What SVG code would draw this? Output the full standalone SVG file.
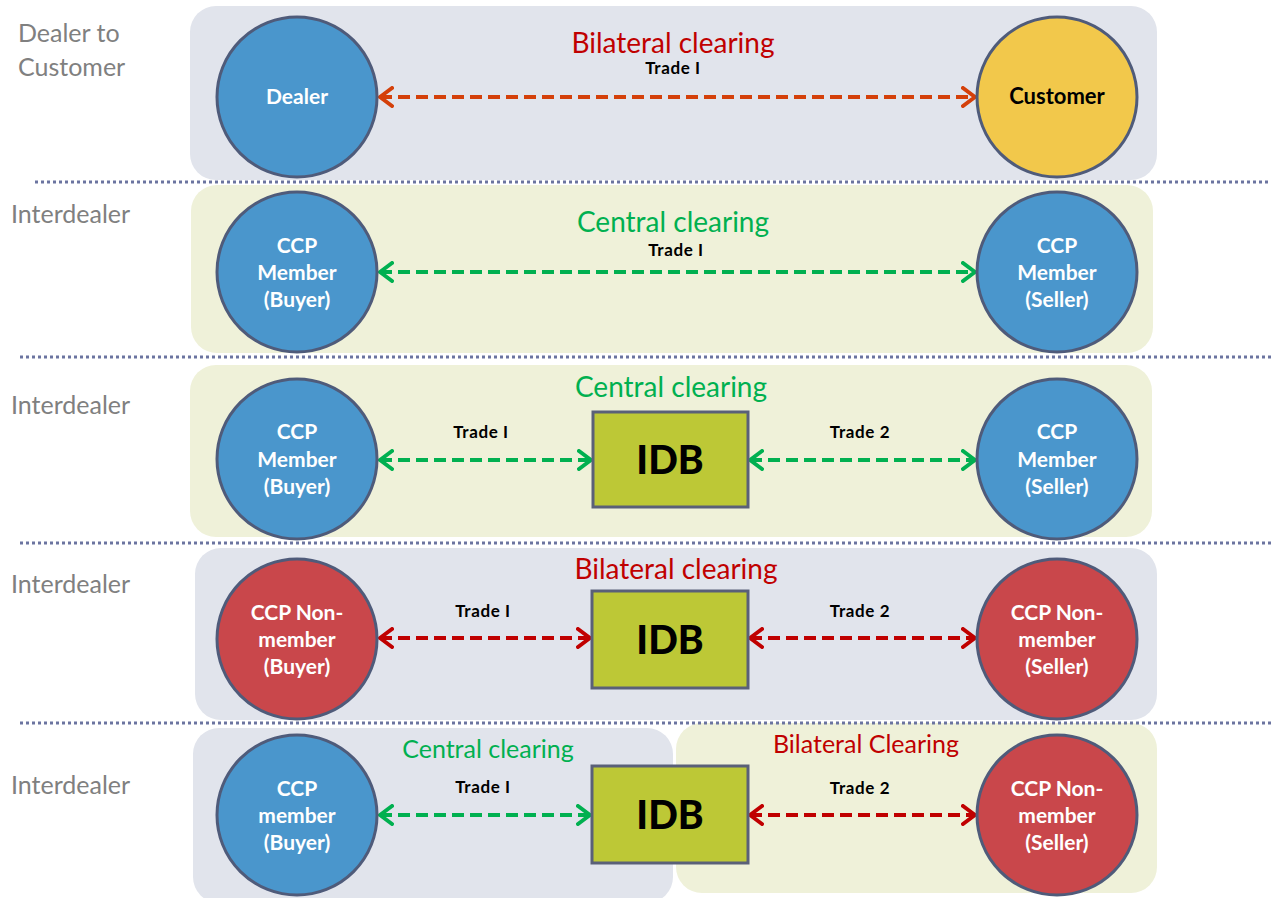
<svg xmlns="http://www.w3.org/2000/svg" width="1271" height="898" viewBox="0 0 1271 898">
<defs>
<style>
.pg{fill:#e1e4ec}
.py{fill:#eff1d9}
.sep{stroke:#6b74a0;stroke-width:3;stroke-dasharray:3 3}
.nd{stroke:#4f5b7a;stroke-width:3}
.blue{fill:#4a96cc}
.yel{fill:#f2c84b}
.red{fill:#c9474b}
.idb{fill:#bdc836;stroke:#5a6078;stroke-width:3}
.wt{font-family:Lato,"Open Sans",sans-serif;font-weight:bold;font-size:21px;fill:#fff;text-anchor:middle}
.bt{font-family:Lato,"Open Sans",sans-serif;font-weight:bold;font-size:22px;fill:#000;text-anchor:middle}
.idbt{font-family:Lato,"Open Sans",sans-serif;font-weight:900;font-size:39px;fill:#000;text-anchor:middle}
.lbl{font-family:Lato,"Open Sans",sans-serif;font-size:25px;fill:#808080}
.tr{font-family:Lato,"Open Sans",sans-serif;font-weight:bold;font-size:17px;letter-spacing:0.6px;fill:#000;text-anchor:middle}
.ttl{font-family:Lato,"Open Sans",sans-serif;font-size:28px;text-anchor:middle}
.ttr{fill:#c00000}
.ttg{fill:#00b050}
.a{fill:none;stroke-width:4;stroke-dasharray:12 6}
.ao{stroke:#d4400a}
.ag{stroke:#00b050}
.ar{stroke:#c00000}
</style>
<marker id="mo" markerUnits="userSpaceOnUse" viewBox="0 0 16 22" refX="14" refY="11" markerWidth="16" markerHeight="22" orient="auto-start-reverse"><path d="M2,2 L14,11 L2,20" fill="none" stroke="#d4400a" stroke-width="4" stroke-linecap="round" stroke-linejoin="round"/></marker>
<marker id="mg" markerUnits="userSpaceOnUse" viewBox="0 0 16 22" refX="14" refY="11" markerWidth="16" markerHeight="22" orient="auto-start-reverse"><path d="M2,2 L14,11 L2,20" fill="none" stroke="#00b050" stroke-width="4" stroke-linecap="round" stroke-linejoin="round"/></marker>
<marker id="mr" markerUnits="userSpaceOnUse" viewBox="0 0 16 22" refX="14" refY="11" markerWidth="16" markerHeight="22" orient="auto-start-reverse"><path d="M2,2 L14,11 L2,20" fill="none" stroke="#c00000" stroke-width="4" stroke-linecap="round" stroke-linejoin="round"/></marker>
</defs>
<rect width="1271" height="898" fill="#fff"/>
<g id="panels">
<rect class="pg" x="190" y="6" width="967" height="174" rx="26"/>
<rect class="py" x="191" y="185" width="962" height="168" rx="26"/>
<rect class="py" x="190" y="365" width="962" height="172" rx="26"/>
<rect class="pg" x="195" y="548" width="962" height="172" rx="26"/>
<rect class="pg" x="193" y="728" width="480" height="175" rx="26"/>
<rect class="py" x="676" y="723" width="481" height="170" rx="26"/>
</g>
<g id="separators">
<line class="sep" x1="35" y1="182" x2="1271" y2="182"/>
<line class="sep" x1="20" y1="357" x2="1271" y2="357"/>
<line class="sep" x1="20" y1="543" x2="1271" y2="543"/>
<line class="sep" x1="20" y1="723" x2="1271" y2="723"/>
</g>
<g id="row-labels">
<text class="lbl" x="18" y="42">Dealer to</text>
<text class="lbl" x="18" y="76">Customer</text>
<text class="lbl" x="11" y="223">Interdealer</text>
<text class="lbl" x="11" y="414">Interdealer</text>
<text class="lbl" x="11" y="593">Interdealer</text>
<text class="lbl" x="11" y="794">Interdealer</text>
</g>
<g id="titles">
<text class="ttl ttr" x="673" y="53">Bilateral clearing</text>
<text class="ttl ttg" x="673" y="232">Central clearing</text>
<text class="ttl ttg" x="671" y="397">Central clearing</text>
<text class="ttl ttr" x="676" y="579">Bilateral clearing</text>
<text class="ttl ttg" x="488" y="758" style="font-size:25px">Central clearing</text>
<text class="ttl ttr" x="866" y="753" style="font-size:25px">Bilateral Clearing</text>
</g>
<g id="connectors">
<line class="a ao" x1="380" y1="97" x2="975" y2="97" marker-start="url(#mo)" marker-end="url(#mo)"/>
<text class="tr" x="673" y="74">Trade I</text>
<line class="a ag" x1="380" y1="272" x2="975" y2="272" marker-start="url(#mg)" marker-end="url(#mg)"/>
<text class="tr" x="676" y="256">Trade I</text>
<line class="a ag" x1="380" y1="460" x2="591" y2="460" marker-start="url(#mg)" marker-end="url(#mg)"/>
<text class="tr" x="481" y="438">Trade I</text>
<line class="a ag" x1="750" y1="460" x2="975" y2="460" marker-start="url(#mg)" marker-end="url(#mg)"/>
<text class="tr" x="860" y="438">Trade 2</text>
<line class="a ar" x1="380" y1="638" x2="590" y2="638" marker-start="url(#mr)" marker-end="url(#mr)"/>
<text class="tr" x="483" y="617">Trade I</text>
<line class="a ar" x1="750" y1="638" x2="975" y2="638" marker-start="url(#mr)" marker-end="url(#mr)"/>
<text class="tr" x="860" y="617">Trade 2</text>
<line class="a ag" x1="380" y1="815" x2="590" y2="815" marker-start="url(#mg)" marker-end="url(#mg)"/>
<text class="tr" x="483" y="793">Trade I</text>
<line class="a ar" x1="750" y1="815" x2="975" y2="815" marker-start="url(#mr)" marker-end="url(#mr)"/>
<text class="tr" x="860" y="794">Trade 2</text>
</g>
<g id="dealer"><circle class="nd blue" cx="297" cy="97" r="80"/><text class="wt" x="297" y="104">Dealer</text></g>
<g id="customer"><circle class="nd yel" cx="1057" cy="97" r="80"/><text class="bt" x="1057" y="104">Customer</text></g>
<g id="r2-buyer"><circle class="nd blue" cx="297" cy="272" r="80"/><text class="wt" x="297" y="253">CCP</text><text class="wt" x="297" y="280">Member</text><text class="wt" x="297" y="307">(Buyer)</text></g>
<g id="r2-seller"><circle class="nd blue" cx="1057" cy="272" r="80"/><text class="wt" x="1057" y="253">CCP</text><text class="wt" x="1057" y="280">Member</text><text class="wt" x="1057" y="307">(Seller)</text></g>
<g id="r3-buyer"><circle class="nd blue" cx="297" cy="459" r="80"/><text class="wt" x="297" y="439">CCP</text><text class="wt" x="297" y="467">Member</text><text class="wt" x="297" y="494">(Buyer)</text></g>
<g id="r3-idb"><rect class="idb" x="593" y="412" width="155" height="95"/><text class="idbt" x="670" y="474">IDB</text></g>
<g id="r3-seller"><circle class="nd blue" cx="1057" cy="459" r="80"/><text class="wt" x="1057" y="439">CCP</text><text class="wt" x="1057" y="467">Member</text><text class="wt" x="1057" y="494">(Seller)</text></g>
<g id="r4-buyer"><circle class="nd red" cx="297" cy="639" r="80"/><text class="wt" x="297" y="620">CCP Non-</text><text class="wt" x="297" y="647">member</text><text class="wt" x="297" y="674">(Buyer)</text></g>
<g id="r4-idb"><rect class="idb" x="592" y="591" width="156" height="97"/><text class="idbt" x="670" y="654">IDB</text></g>
<g id="r4-seller"><circle class="nd red" cx="1057" cy="639" r="80"/><text class="wt" x="1057" y="620">CCP Non-</text><text class="wt" x="1057" y="647">member</text><text class="wt" x="1057" y="674">(Seller)</text></g>
<g id="r5-buyer"><circle class="nd blue" cx="297" cy="815" r="80"/><text class="wt" x="297" y="796">CCP</text><text class="wt" x="297" y="823">member</text><text class="wt" x="297" y="850">(Buyer)</text></g>
<g id="r5-idb"><rect class="idb" x="592" y="766" width="156" height="97"/><text class="idbt" x="670" y="829">IDB</text></g>
<g id="r5-seller"><circle class="nd red" cx="1057" cy="815" r="80"/><text class="wt" x="1057" y="796">CCP Non-</text><text class="wt" x="1057" y="823">member</text><text class="wt" x="1057" y="850">(Seller)</text></g>
</svg>
